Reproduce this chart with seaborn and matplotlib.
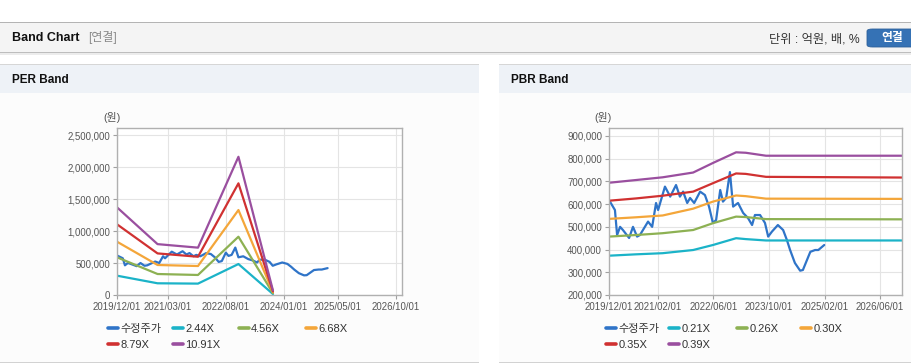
# PER / PBR band chart (two panels)

import pandas as pd
import numpy as np
import matplotlib
matplotlib.use('Agg')
import matplotlib.pyplot as plt
import matplotlib.ticker as mticker
from matplotlib.patches import Rectangle, FancyBboxPatch
from matplotlib.lines import Line2D
import seaborn as sns

# adjusted price (수정주가), same for both charts
price_dates = ['2019-12-01', '2020-01-22', '2020-02-10', '2020-03-07', '2020-04-01',
               '2020-05-25', '2020-06-28', '2020-08-03', '2020-08-28', '2020-11-07',
               '2020-12-13', '2021-01-16', '2021-02-03', '2021-04-04', '2021-05-20',
               '2021-07-10', '2021-08-13', '2021-09-10', '2021-10-16', '2021-11-10',
               '2021-12-16', '2022-02-06', '2022-03-20', '2022-04-25', '2022-05-29',
               '2022-06-26', '2022-08-01', '2022-08-25', '2022-09-22', '2022-10-25',
               '2022-11-22', '2023-01-04', '2023-02-18', '2023-04-01', '2023-05-07',
               '2023-06-01', '2023-07-16', '2023-08-28', '2023-09-25', '2023-10-28',
               '2023-12-19', '2024-02-03', '2024-03-07', '2024-04-04', '2024-05-16',
               '2024-07-01', '2024-07-25', '2024-09-28', '2024-11-09', '2024-12-07',
               '2025-01-28']
price_vals = [618000, 574000, 464000, 500000, 486000, 451000, 500000, 457000, 464000, 523000,
              500000, 605000, 574000, 677000, 633000, 684000, 633000, 655000, 605000, 627000,
              605000, 655000, 640000, 589000, 517000, 530000, 662000, 611000, 627000, 741000,
              589000, 605000, 561000, 539000, 508000, 552000, 552000, 517000, 457000, 479000,
              508000, 486000, 442000, 398000, 341000, 307000, 310000, 390000, 398000, 398000,
              420000]

# PER band lines
per_dates = ['2019-12-01', '2020-11-28', '2021-11-25', '2022-11-22', '2023-09-27']
per_244 = [302000, 183000, 178000, 484000, 15000]
per_456 = [589000, 328000, 313000, 911000, 28000]
per_668 = [833000, 469000, 453000, 1328000, 42000]
per_879 = [1105000, 650000, 598000, 1745000, 55000]
per_1091 = [1370000, 795000, 740000, 2160000, 70000]
per_labels = ['2.44X', '4.56X', '6.68X', '8.79X', '10.91X']

# PBR band lines
pbr_dates = ['2019-12-01', '2020-07-24', '2021-03-15', '2021-12-07', '2022-05-29',
             '2022-12-18', '2023-03-13', '2023-09-06', '2026-12-10']
pbr_021 = [373000, 379000, 384000, 398000, 420000, 450000, 446000, 440000, 440000]
pbr_026 = [457000, 464000, 472000, 486000, 516000, 545000, 543000, 534000, 533000]
pbr_030 = [535000, 542000, 550000, 580000, 611000, 638000, 635000, 624000, 623000]
pbr_035 = [615000, 625000, 637000, 655000, 692000, 735000, 733000, 720000, 717000]
pbr_039 = [694000, 706000, 718000, 739000, 781000, 828000, 826000, 813000, 813000]
pbr_labels = ['0.21X', '0.26X', '0.30X', '0.35X', '0.39X']

price_label = '수정주가'

per_xticks = ['2019-12-01', '2021-03-01', '2022-08-01', '2024-01-01', '2025-05-01', '2026-10-01']
pbr_xticks = ['2019-12-01', '2021-02-01', '2022-06-01', '2023-10-01', '2025-02-01', '2026-06-01']
per_yticks = [0, 500000, 1000000, 1500000, 2000000, 2500000]
pbr_yticks = [200000, 300000, 400000, 500000, 600000, 700000, 800000, 900000]

colors = ['#2f74c8', '#1bb3c8', '#8db153', '#f4a63a', '#d03131', '#9a4f9f']

sns.set_theme(style='white')
plt.rcParams['font.family'] = ['Liberation Sans', 'Noto Sans CJK KR']

W, H = 912, 364
fig = plt.figure(figsize=(W / 100, H / 100), dpi=100)
fig.patch.set_facecolor('white')


def rect(x0, y0, x1, y1, color):
    fig.add_artist(Rectangle((x0 / W, 1 - y1 / H), (x1 - x0) / W, (y1 - y0) / H,
                             transform=fig.transFigure, facecolor=color,
                             edgecolor='none', zorder=-5))


def ftext(x, y, s, **kw):
    fig.text(x / W, 1 - y / H, s, va='center', **kw)


# page header
rect(0, 22, W, 23, '#b4b4b4')
rect(0, 23, W, 52, '#f4f4f4')
rect(0, 52, W, 53, '#bdbdbd')
rect(0, 53, W, 55, '#ececec')
ftext(12, 38, 'Band Chart', fontsize=9, fontweight='bold', color='#111111')
ftext(88, 38, '[연결]', fontsize=8.6, color='#8a8a8a')
ftext(860, 39, '단위 : 억원, 배, %', fontsize=8.8, color='#333333', ha='right')
fig.add_artist(FancyBboxPatch((867 / W, 1 - 47 / H), 50 / W, 18 / H,
                              boxstyle='round,pad=0,rounding_size=0.006',
                              transform=fig.transFigure, facecolor='#3572b5',
                              edgecolor='#2c5f99', lw=0.6, zorder=-4))
ftext(892, 38, '연결', fontsize=8.5, color='white', fontweight='bold', ha='center')

# panels
for px0, px1, title in [(0, 479, 'PER Band'), (499, W, 'PBR Band')]:
    rect(px0, 64, px1, 65, '#d6d6d6')
    rect(px0, 65, px1, 93, '#eef2f7')
    rect(px0, 93, px1, 362, '#fcfcfc')
    rect(px0, 362, px1, 363, '#d2d2d2')
    ftext(px0 + 12, 80, title, fontsize=8.5, fontweight='bold', color='#111111')


def make_df(band_dates, bands, labels):
    parts = [pd.DataFrame({'date': pd.to_datetime(price_dates), 'value': price_vals,
                           'series': price_label})]
    for vals, lab in zip(bands, labels):
        parts.append(pd.DataFrame({'date': pd.to_datetime(band_dates), 'value': vals,
                                   'series': lab}))
    return pd.concat(parts, ignore_index=True)


def draw(ax, df, order, xticks, yticks, xlim, ylim):
    sns.lineplot(data=df, x='date', y='value', hue='series', hue_order=order,
                 palette=colors, estimator=None, linewidth=1.6, legend=False, ax=ax)
    ax.set_xlim(pd.Timestamp(xlim[0]), pd.Timestamp(xlim[1]))
    ax.set_ylim(*ylim)
    ax.set_xticks(pd.to_datetime(xticks))
    ax.set_xticklabels([pd.Timestamp(t).strftime('%Y/%m/%d') for t in xticks])
    ax.set_yticks(yticks)
    ax.yaxis.set_major_formatter(mticker.FuncFormatter(lambda v, p: f'{v:,.0f}'))
    ax.set_xlabel('')
    ax.set_ylabel('')
    ax.grid(True, color='#e4e4e4', lw=0.8)
    ax.set_facecolor('white')
    for sp in ax.spines.values():
        sp.set_color('#b0b0b0')
        sp.set_linewidth(1.0)
    ax.tick_params(axis='both', length=3, width=0.8, color='#a0a0a0',
                   labelsize=6.9, labelcolor='#555555', pad=2, left=True, bottom=True)


def legend_cols(xs, y_top, order):
    handles = {lab: Line2D([], [], color=c, lw=2.6) for lab, c in zip(order, colors)}
    cols = [[order[0], order[4]], [order[1], order[5]], [order[2]], [order[3]]]
    for x, col in zip(xs, cols):
        leg = fig.legend([handles[l] for l in col], col, loc='upper left',
                         bbox_to_anchor=(x / W, 1 - y_top / H), bbox_transform=fig.transFigure,
                         frameon=False, fontsize=8, handlelength=0.9, handletextpad=0.2,
                         borderpad=0, borderaxespad=0, labelspacing=0.55)
        for t in leg.get_texts():
            t.set_color('#333333')


# PER chart
per_order = [price_label] + per_labels
ax1 = fig.add_axes([117 / W, 1 - 295 / H, 285 / W, 167 / H])
df1 = make_df(per_dates, [per_244, per_456, per_668, per_879, per_1091], per_labels)
draw(ax1, df1, per_order, per_xticks, per_yticks, ('2019-12-01', '2026-11-25'), (0, 2610000))
ftext(112, 118, '(원)', fontsize=7.8, color='#555555', ha='center')
legend_cols([108, 173, 239, 306], 324, per_order)

# PBR chart
pbr_order = [price_label] + pbr_labels
ax2 = fig.add_axes([609 / W, 1 - 295 / H, 293 / W, 167 / H])
df2 = make_df(pbr_dates, [pbr_021, pbr_026, pbr_030, pbr_035, pbr_039], pbr_labels)
draw(ax2, df2, pbr_order, pbr_xticks, pbr_yticks, ('2019-12-01', '2026-12-10'), (200000, 935000))
ftext(603, 118, '(원)', fontsize=7.8, color='#555555', ha='center')
legend_cols([606, 669, 737, 801], 324, pbr_order)

fig.savefig('out.png', dpi=100)
